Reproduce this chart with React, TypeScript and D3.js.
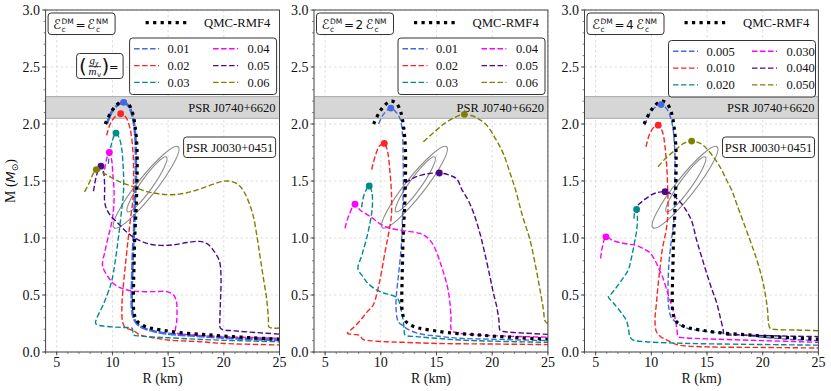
import React from 'react';
import * as d3 from 'd3';

type Pt = [number, number];

// ---------- axes ----------
const xDomain: Pt = [4, 25];
const yDomain: Pt = [0, 3];
const xTicks = [5, 10, 15, 20, 25];
const yTicks = [0, 0.5, 1, 1.5, 2, 2.5, 3];
const yTickLabels = ['0.0', '0.5', '1.0', '1.5', '2.0', '2.5', '3.0'];

// ---------- observational constraints ----------
const j0740Band: Pt = [2.05, 2.24];
const j0030Outer: Pt[] = [[10.15, 1.09], [15.9, 1.8]];
const j0030Inner: Pt[] = [[11.35, 1.23], [14.85, 1.71]];

// ---------- QMC-RMF4 (pure nuclear matter) ----------
const qmc: Pt[] = [[9.35, 2.0], [9.8, 2.09], [10.3, 2.16], [10.9, 2.2], [11.4, 2.18], [11.8, 2.1], [12.05, 1.97], [12.2, 1.8], [12.22, 1.6], [12.18, 1.4], [12.1, 1.2], [12.0, 1.0], [11.95, 0.8], [11.9, 0.6], [11.88, 0.45], [11.93, 0.35], [12.15, 0.28], [12.6, 0.24], [13.4, 0.21], [14.6, 0.19], [16, 0.17], [18, 0.155], [20, 0.14], [22.5, 0.125], [25, 0.113]];

// ---------- panel 1 : E_DM = E_NM ----------
const p1a: Pt[] = [[9.5, 2.0], [9.9, 2.1], [10.4, 2.16], [11.0, 2.19], [11.5, 2.15], [11.85, 2.05], [12.05, 1.9], [12.1, 1.7], [12.1, 1.5], [12.0, 1.3], [11.95, 1.1], [11.85, 0.9], [11.78, 0.7], [11.73, 0.5], [11.75, 0.38], [11.9, 0.3], [12.2, 0.25], [12.8, 0.21], [13.8, 0.18], [15, 0.16], [17, 0.145], [20, 0.125], [22.5, 0.113], [25, 0.105]];
const p1b: Pt[] = [[9.48, 1.9], [9.8, 2.0], [10.2, 2.06], [10.74, 2.09], [11.2, 2.06], [11.6, 1.95], [11.85, 1.75], [11.9, 1.55], [11.85, 1.35], [11.6, 1.15], [11.4, 0.98], [11.15, 0.75], [10.95, 0.55], [10.85, 0.4], [10.9, 0.27], [11.1, 0.22], [11.5, 0.2], [11.85, 0.19], [12.3, 0.16], [12.8, 0.14], [14, 0.12], [15, 0.105], [17.9, 0.09], [20, 0.075], [25, 0.062]];
const p1c: Pt[] = [[9.63, 1.65], [9.85, 1.8], [10.32, 1.92], [10.7, 1.85], [10.95, 1.65], [11.0, 1.42], [10.83, 1.25], [10.4, 0.9], [10.0, 0.65], [9.78, 0.57], [9.2, 0.42], [8.5, 0.25], [9.0, 0.23], [10, 0.22], [11.0, 0.215], [11.75, 0.21], [11.85, 0.17], [11.9, 0.15], [12.5, 0.14], [14, 0.13], [15, 0.125], [18, 0.11], [21, 0.1], [25, 0.09]];
const p1d: Pt[] = [[9.3, 1.6], [9.5, 1.7], [9.72, 1.75], [9.9, 1.7], [10.05, 1.55], [10.15, 1.4], [10.1, 1.25], [9.9, 1.12], [9.6, 1.0], [9.3, 0.87], [9.1, 0.78], [9.15, 0.74], [9.6, 0.66], [10.1, 0.6], [10.8, 0.56], [11.5, 0.54], [12.5, 0.53], [14.0, 0.53], [14.9, 0.53], [15.5, 0.5], [15.75, 0.44], [15.8, 0.35], [15.75, 0.25], [15.65, 0.19], [15.8, 0.165], [17, 0.15], [20, 0.135], [22.5, 0.127], [25, 0.12]];
const p1e: Pt[] = [[8.3, 1.41], [8.5, 1.52], [8.75, 1.6], [8.97, 1.63], [9.2, 1.58], [9.3, 1.45], [9.3, 1.32], [9.45, 1.26], [9.8, 1.2], [10.5, 1.13], [11.3, 1.05], [12.2, 0.99], [13.2, 0.95], [14.3, 0.935], [15.5, 0.94], [16.7, 0.96], [17.8, 0.97], [18.5, 0.95], [19.0, 0.9], [19.6, 0.8], [19.75, 0.65], [19.7, 0.45], [19.65, 0.3], [19.65, 0.22], [19.8, 0.2], [21, 0.185], [23, 0.17], [25, 0.157]];
const p1f: Pt[] = [[7.5, 1.405], [7.9, 1.48], [8.2, 1.55], [8.55, 1.6], [9.2, 1.57], [10.1, 1.52], [11.0, 1.48], [11.9, 1.45], [13.0, 1.41], [14.0, 1.39], [15.0, 1.38], [16.0, 1.385], [17.0, 1.405], [18.0, 1.435], [19.0, 1.47], [19.8, 1.495], [20.4, 1.5], [21.0, 1.485], [21.5, 1.45], [21.9, 1.39], [22.3, 1.3], [22.65, 1.19], [23.0, 1.0], [23.25, 0.84], [23.55, 0.65], [23.85, 0.46], [24.0, 0.3], [24.05, 0.22], [24.3, 0.21], [25, 0.21]];

// ---------- panel 2 : E_DM = 2 E_NM ----------
const p2a: Pt[] = [[9.8, 2.0], [10.2, 2.08], [10.9, 2.14], [11.4, 2.1], [11.75, 2.04], [11.95, 1.9], [12.0, 1.71], [12.02, 1.45], [11.95, 1.2], [11.85, 0.95], [11.72, 0.8], [11.57, 0.66], [11.4, 0.5], [11.36, 0.4], [11.45, 0.3], [11.6, 0.26], [12.0, 0.23], [12.4, 0.2], [13.5, 0.16], [15, 0.14], [17.1, 0.12], [20, 0.112], [25, 0.1]];
const p2b: Pt[] = [[9.18, 1.6], [9.5, 1.72], [9.9, 1.81], [10.31, 1.83], [10.6, 1.76], [10.8, 1.6], [10.95, 1.4], [10.95, 1.2], [10.7, 1.04], [10.4, 0.89], [9.85, 0.6], [9.3, 0.41], [8.75, 0.35], [8.1, 0.27], [7.5, 0.21], [7.0, 0.165], [7.5, 0.155], [8.1, 0.145], [8.4, 0.11], [9.0, 0.1], [10.5, 0.09], [12, 0.085], [15, 0.075], [20, 0.07], [25, 0.065]];
const p2c: Pt[] = [[8.28, 1.27], [8.5, 1.38], [8.96, 1.456], [9.2, 1.4], [9.25, 1.3], [9.15, 1.2], [8.73, 1.0], [8.3, 0.85], [7.95, 0.73], [8.4, 0.66], [8.87, 0.6], [9.7, 0.54], [10.5, 0.51], [11.2, 0.49], [11.57, 0.46], [11.8, 0.38], [12.0, 0.28], [12.1, 0.2], [12.17, 0.15], [13.2, 0.135], [15, 0.12], [17.1, 0.105], [20, 0.095], [25, 0.085]];
const p2d: Pt[] = [[6.78, 1.085], [7.1, 1.19], [7.68, 1.296], [8.13, 1.246], [9.03, 1.19], [10.37, 1.1], [12.0, 1.065], [13.5, 1.04], [14.1, 1.01], [14.7, 0.94], [15.45, 0.75], [16.05, 0.54], [16.3, 0.31], [16.35, 0.19], [17, 0.165], [18.6, 0.15], [21, 0.14], [25, 0.13]];
const p2e: Pt[] = [[12.2, 1.485], [13.0, 1.53], [14.0, 1.56], [15.25, 1.57], [16.2, 1.55], [16.8, 1.52], [17.3, 1.42], [17.85, 1.33], [18.4, 1.2], [18.9, 1.04], [19.3, 0.88], [19.8, 0.66], [20.1, 0.52], [20.4, 0.4], [20.6, 0.28], [20.7, 0.19], [21.0, 0.18], [23, 0.165], [25, 0.155]];
const p2f: Pt[] = [[13.82, 1.845], [14.8, 1.93], [15.8, 2.01], [16.7, 2.06], [17.5, 2.085], [18.5, 2.06], [19.5, 1.99], [20.3, 1.87], [21.0, 1.74], [21.6, 1.57], [22.1, 1.42], [22.7, 1.2], [23.4, 0.98], [23.9, 0.75], [24.3, 0.54], [24.6, 0.37], [24.75, 0.27], [25, 0.25]];

// ---------- panel 3 : E_DM = 4 E_NM ----------
const p3a: Pt[] = [[9.4, 1.99], [9.9, 2.1], [10.4, 2.15], [10.87, 2.17], [11.4, 2.13], [11.88, 2.0], [12.05, 1.85], [12.12, 1.71], [12.1, 1.45], [12.06, 1.2], [11.9, 1.05], [11.76, 0.95], [11.6, 0.8], [11.52, 0.66], [11.5, 0.5], [11.55, 0.4], [11.8, 0.3], [12.12, 0.27], [12.5, 0.24], [13.0, 0.215], [14.5, 0.185], [16.6, 0.165], [20, 0.13], [22.5, 0.11], [25, 0.1]];
const p3b: Pt[] = [[9.52, 1.8], [9.8, 1.9], [10.2, 1.97], [10.62, 1.99], [11.0, 1.93], [11.23, 1.8], [11.4, 1.6], [11.47, 1.42], [11.5, 1.25], [11.38, 1.1], [10.98, 0.895], [10.8, 0.75], [10.62, 0.6], [10.45, 0.42], [10.33, 0.28], [10.45, 0.18], [10.9, 0.13], [11.4, 0.105], [11.97, 0.076], [12.5, 0.06], [15, 0.045], [20, 0.04], [25, 0.035]];
const p3c: Pt[] = [[8.44, 1.17], [8.5, 1.22], [8.68, 1.25], [8.75, 1.18], [8.7, 1.08], [8.47, 0.95], [8.2, 0.82], [7.93, 0.72], [7.4, 0.64], [6.89, 0.57], [6.4, 0.51], [6.14, 0.485], [6.59, 0.43], [7.34, 0.34], [7.79, 0.27], [7.95, 0.2], [8.08, 0.135], [8.38, 0.105], [9.5, 0.09], [13, 0.076], [18, 0.068], [25, 0.06]];
const p3d: Pt[] = [[5.45, 0.82], [5.6, 0.92], [5.93, 1.01], [6.5, 0.98], [7.19, 0.96], [8.0, 0.945], [8.68, 0.935], [9.4, 0.9], [9.88, 0.87], [10.3, 0.81], [10.63, 0.74], [11.0, 0.66], [11.52, 0.5], [11.85, 0.4], [12.12, 0.3], [12.3, 0.2], [12.42, 0.135], [13, 0.125], [15, 0.115], [20, 0.1], [25, 0.085]];
const p3e: Pt[] = [[8.8, 1.29], [9.3, 1.33], [10.03, 1.38], [10.6, 1.4], [11.23, 1.406], [11.9, 1.38], [12.72, 1.3], [13.2, 1.23], [13.62, 1.15], [14.07, 0.98], [14.5, 0.84], [14.97, 0.69], [15.4, 0.56], [15.87, 0.43], [16.2, 0.3], [16.46, 0.19], [16.52, 0.158], [18, 0.15], [21, 0.142], [25, 0.135]];
const p3f: Pt[] = [[10.6, 1.625], [11.3, 1.7], [12.12, 1.77], [12.9, 1.83], [13.62, 1.85], [14.4, 1.83], [15.1, 1.77], [15.87, 1.67], [16.3, 1.6], [16.8, 1.5], [17.22, 1.42], [17.66, 1.3], [18.86, 0.98], [19.5, 0.8], [20.05, 0.6], [20.4, 0.4], [20.65, 0.21], [20.95, 0.2], [23, 0.193], [25, 0.187]];

// ---------- legends ----------
const labelsA = ['0.01', '0.02', '0.03', '0.04', '0.05', '0.06'];
const labelsB = ['0.005', '0.010', '0.020', '0.030', '0.040', '0.050'];
const colors = ['#4169e1', '#ff2424', '#008b8b', '#ff00ff', '#4b0a8c', '#808000'];
const ratioText = ['', '2', '4'];

const panels = [
  { curves: [p1a, p1b, p1c, p1d, p1e, p1f], labels: labelsA, ratio: ratioText[0], j0030: true, gbox: true, thickBlue: true, legDy: 0 },
  { curves: [p2a, p2b, p2c, p2d, p2e, p2f], labels: labelsA, ratio: ratioText[1], j0030: false, gbox: false, thickBlue: false, legDy: 0 },
  { curves: [p3a, p3b, p3c, p3d, p3e, p3f], labels: labelsB, ratio: ratioText[2], j0030: true, gbox: false, thickBlue: false, legDy: 2.5 },
];

const W = 831, H = 391;
const TOP = 10, BOT = 352, PW = 233.9;
const LEFTS = [45.6, 314, 584.5];
const SERIF = 'Liberation Serif, Tinos, Times New Roman, DejaVu Serif, serif';
const SANS = 'DejaVu Sans, sans-serif';

function Ellipse({ ends, minor, x, y }: any) {
  const [p1, p2] = ends.map((d: Pt) => [x(d[0]), y(d[1])]);
  const cx = (p1[0] + p2[0]) / 2, cy = (p1[1] + p2[1]) / 2;
  const a = Math.hypot(p2[0] - p1[0], p2[1] - p1[1]) / 2;
  const ang = (Math.atan2(p2[1] - p1[1], p2[0] - p1[0]) * 180) / Math.PI;
  return <ellipse cx={cx} cy={cy} rx={a} ry={minor} transform={`rotate(${ang} ${cx} ${cy})`} fill="none" stroke="#8c8c8c" strokeWidth={1.1} />;
}

function Panel({ idx }: { idx: number }) {
  const cfg = panels[idx];
  const L = LEFTS[idx];
  const x = d3.scaleLinear().domain(xDomain).range([L, L + PW]);
  const y = d3.scaleLinear().domain(yDomain).range([BOT, TOP]);
  const line = d3.line<Pt>().x(d => x(d[0])).y(d => y(d[1])).curve(d3.curveCatmullRom.alpha(0.5));
  const clipId = `clip${idx}`;
  const minorX = d3.range(4, 25.01, 1);
  const minorY = d3.range(0, 3.001, 0.1);

  const bx = L + 2.5;
  const eqW = cfg.ratio ? 77 : 67;
  const shift = cfg.ratio ? 10 : 0;
  const ld = cfg.legDy;

  return (
    <g>
      <defs>
        <clipPath id={clipId}><rect x={L} y={TOP} width={PW} height={BOT - TOP} /></clipPath>
      </defs>
      {xTicks.map(t => <line key={'gx' + t} x1={x(t)} x2={x(t)} y1={TOP} y2={BOT} stroke="#d4d4d4" strokeWidth={0.8} strokeDasharray="2.5,2.5" />)}
      {yTicks.map(t => <line key={'gy' + t} x1={L} x2={L + PW} y1={y(t)} y2={y(t)} stroke="#d4d4d4" strokeWidth={0.8} strokeDasharray="2.5,2.5" />)}
      <rect x={L} y={y(j0740Band[1])} width={PW} height={y(j0740Band[0]) - y(j0740Band[1])} fill="#d6d6d6" />
      <line x1={L} x2={L + PW} y1={y(j0740Band[1])} y2={y(j0740Band[1])} stroke="#a8a8a8" strokeWidth={1} />
      <line x1={L} x2={L + PW} y1={y(j0740Band[0])} y2={y(j0740Band[0])} stroke="#a8a8a8" strokeWidth={1} />
      <text x={L + PW - 4} y={(y(j0740Band[0]) + y(j0740Band[1])) / 2 + 4.5} textAnchor="end" fontFamily={SERIF} fontSize={12.5} fill="#111">PSR J0740+6620</text>
      <g clipPath={`url(#${clipId})`}>
        <Ellipse ends={j0030Outer} minor={9.5} x={x} y={y} />
        <Ellipse ends={j0030Inner} minor={6} x={x} y={y} />
        {cfg.curves.map((c, i) => (
          <path key={'c' + i} d={line(c) || ''} fill="none" stroke={colors[i]}
            strokeWidth={i === 0 && cfg.thickBlue ? 2.6 : 1.4}
            strokeDasharray={i === 0 && cfg.thickBlue ? '8,1.6' : '5.5,2.5'} />
        ))}
        <path d={line(qmc) || ''} fill="none" stroke="#000" strokeWidth={3.2} strokeDasharray="3.2,4.3" />
        {cfg.curves.map((c, i) => {
          const k = d3.maxIndex(c, d => d[1]);
          return <circle key={'m' + i} cx={x(c[k][0])} cy={y(c[k][1])} r={3.4} fill={colors[i]} />;
        })}
      </g>
      {cfg.j0030 && (
        <g>
          <rect x={L + 138} y={137} width={92} height={20.5} rx={3} fill="white" stroke="#333" strokeWidth={1} />
          <text x={L + 184} y={151.5} textAnchor="middle" fontFamily={SERIF} fontSize={12.5} fill="#111">PSR J0030+0451</text>
        </g>
      )}
      <rect x={bx} y={13} width={eqW} height={21.5} rx={3} fill="white" stroke="#333" strokeWidth={1} />
      <text x={bx + 5} y={29} fontFamily={SANS} fontSize={13.5} fill="#111">ℰ</text>
      <text x={bx + 13.5} y={23.5} fontFamily={SANS} fontSize={7.5} fill="#111">DM</text>
      <text x={bx + 13.5} y={32} fontFamily={SANS} fontSize={7.5} fill="#111">c</text>
      <text x={bx + 27.5} y={28.5} fontFamily={SANS} fontSize={12} fill="#111">=</text>
      {cfg.ratio && <text x={bx + 39} y={29} fontFamily={SANS} fontSize={12} fill="#111">{cfg.ratio}</text>}
      <text x={bx + 39 + shift} y={29} fontFamily={SANS} fontSize={13.5} fill="#111">ℰ</text>
      <text x={bx + 48 + shift} y={23.5} fontFamily={SANS} fontSize={7.5} fill="#111">NM</text>
      <text x={bx + 48 + shift} y={32} fontFamily={SANS} fontSize={7.5} fill="#111">c</text>
      <line x1={L + 100} x2={L + 145} y1={22.7} y2={22.7} stroke="#000" strokeWidth={3.2} strokeDasharray="3.2,4.3" />
      <text x={L + 158.5} y={27} fontFamily={SERIF} fontSize={12.7} fill="#111">QMC-RMF4</text>
      <rect x={L + 84} y={38 + ld} width={147} height={56.5} rx={3} fill="white" stroke="#333" strokeWidth={1} />
      {cfg.labels.map((lab, i) => {
        const col = Math.floor(i / 3), row = i % 3;
        const ly = 48.8 + ld + row * 16.8;
        const lx = L + (col === 0 ? 88.5 : 167.5);
        return (
          <g key={'l' + i}>
            <line x1={lx} x2={lx + 25} y1={ly} y2={ly} stroke={colors[i]} strokeWidth={1.4} strokeDasharray="5.5,2.5" />
            <text x={lx + (col === 0 ? 33.5 : 34.5)} y={ly + 4.3} fontFamily={SERIF} fontSize={12.5} fill="#111">{lab}</text>
          </g>
        );
      })}
      {cfg.gbox && (
        <g>
          <rect x={L + 31} y={53.5} width={46.5} height={25} rx={3} fill="white" stroke="#333" strokeWidth={1} />
          <text x={L + 33.5} y={73} fontFamily={SANS} fontSize={20} fill="#111">(</text>
          <text x={L + 44} y={64} fontFamily={SERIF} fontStyle="italic" fontSize={11} fill="#111">g</text>
          <text x={L + 49.5} y={66} fontFamily={SERIF} fontStyle="italic" fontSize={7.5} fill="#111">χ</text>
          <line x1={L + 43} x2={L + 55.5} y1={66.6} y2={66.6} stroke="#111" strokeWidth={0.8} />
          <text x={L + 43} y={75.3} fontFamily={SERIF} fontStyle="italic" fontSize={11} fill="#111">m</text>
          <text x={L + 51.5} y={77} fontFamily={SANS} fontSize={7} fill="#111">v</text>
          <text x={L + 56} y={73} fontFamily={SANS} fontSize={20} fill="#111">)</text>
          <text x={L + 63.5} y={71} fontFamily={SANS} fontSize={11.5} fill="#111">=</text>
        </g>
      )}
      {minorX.map(t => <line key={'mx' + t} x1={x(t)} x2={x(t)} y1={BOT} y2={BOT + 2} stroke="#333" strokeWidth={0.6} />)}
      {minorY.map((t, i) => <line key={'my' + i} x1={L - 2} x2={L} y1={y(t)} y2={y(t)} stroke="#333" strokeWidth={0.6} />)}
      {xTicks.map(t => (
        <g key={'tx' + t}>
          <line x1={x(t)} x2={x(t)} y1={BOT} y2={BOT + 3.5} stroke="#333" strokeWidth={0.8} />
          <text x={x(t)} y={366.5} textAnchor="middle" fontFamily={SERIF} fontSize={14} fill="#111">{t}</text>
        </g>
      ))}
      {yTicks.map((t, i) => (
        <g key={'ty' + t}>
          <line x1={L - 3.5} x2={L} y1={y(t)} y2={y(t)} stroke="#333" strokeWidth={0.8} />
          <text x={L - 5.5} y={y(t) + 4.8} textAnchor="end" fontFamily={SERIF} fontSize={14} fill="#111">{yTickLabels[i]}</text>
        </g>
      ))}
      <rect x={L} y={TOP} width={PW} height={BOT - TOP} fill="none" stroke="#444" strokeWidth={1} />
      <text x={L + PW / 2} y={383} textAnchor="middle" fontFamily={SERIF} fontSize={14} fill="#111">R (km)</text>
    </g>
  );
}

export default function App() {
  return (
    <svg width={W} height={H} viewBox={`0 0 ${W} ${H}`} style={{ position: 'absolute', left: 0, top: 0, background: 'white' }}>
      <rect x={0} y={0} width={W} height={H} fill="white" />
      {panels.map((_, i) => <Panel key={i} idx={i} />)}
      <text transform={`translate(15, ${(TOP + BOT) / 2}) rotate(-90)`} textAnchor="middle" fontFamily={SERIF} fontSize={14} fill="#111">
        <tspan>M (</tspan>
        <tspan fontFamily={SANS} fontStyle="italic" fontSize={13}>M</tspan>
        <tspan fontFamily={SANS} fontSize={9} dy={3}>⊙</tspan>
        <tspan dy={-3}>)</tspan>
      </text>
    </svg>
  );
}
